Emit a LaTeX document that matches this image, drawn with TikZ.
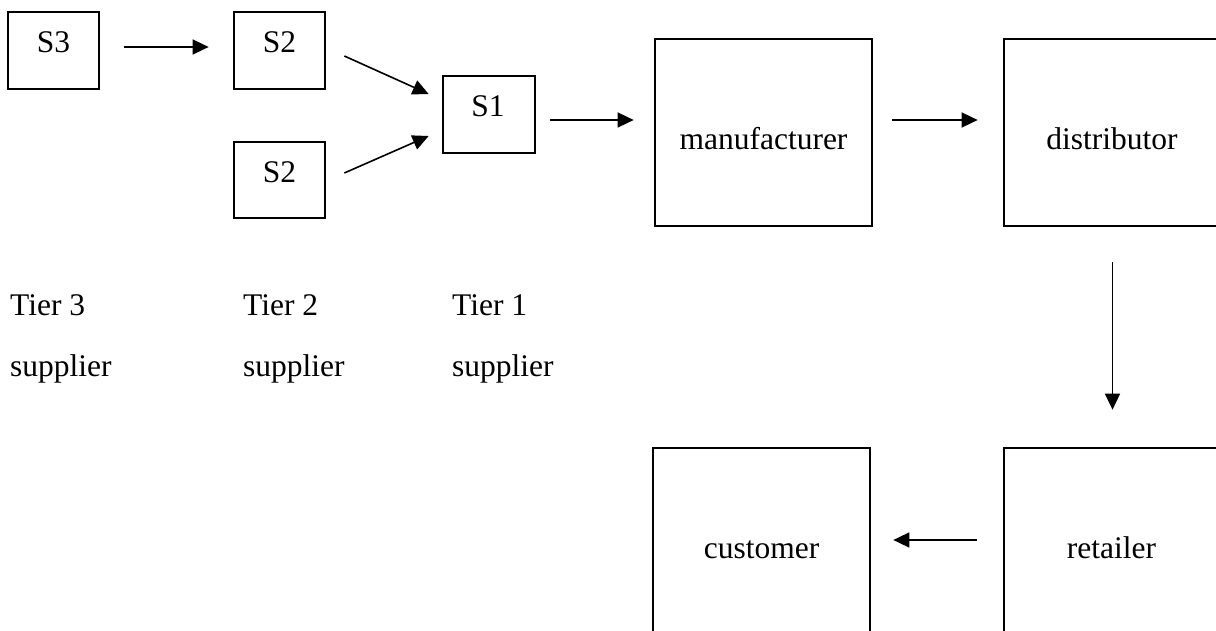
\documentclass[tikz,border=0pt]{standalone}
\usepackage{fontspec}
\setmainfont{Liberation Serif}
\usetikzlibrary{arrows.meta}
\begin{document}
\begin{tikzpicture}[x=1pt,y=-1pt,
  box/.style={draw,line width=2.7pt,inner sep=0pt,minimum width=#1},
  box/.default=91pt,
  lbl/.style={inner sep=0pt,anchor=base,font=\fontsize{31.5}{37}\selectfont},
  lbll/.style={inner sep=0pt,anchor=base west,font=\fontsize{31.5}{37}\selectfont},
  arr/.style={line width=1.6pt,-{Triangle[length=16pt,width=15pt]}}]
\useasboundingbox (0,0) rectangle (1216,631);
\clip (0,0) rectangle (1216,631);
% supplier boxes
\node[box,minimum height=77pt] (S3) at (53.5,50.5) {};
\node[box,minimum height=77pt] (S2a) at (279.5,50.5) {};
\node[box,minimum height=76pt] (S2b) at (279.5,180) {};
\node[box,minimum height=77pt,minimum width=92pt] (S1) at (489,114.5) {};
\node[lbl] (tS3) at (53.5,53) {S3};
\node[lbl] (tS2a) at (279.5,53) {S2};
\node[lbl] (tS2b) at (279.5,183) {S2};
\node[lbl] (tS1) at (488,117) {S1};
% chain boxes
\node[box,minimum width=217pt,minimum height=187pt] (M) at (763.5,132.5) {};
\node[box,minimum width=217pt,minimum height=187pt] (D) at (1112.5,132.5) {};
\node[box,minimum width=217pt,minimum height=232pt] (R) at (1112.5,564) {};
\node[box,minimum width=217pt,minimum height=232pt] (C) at (761.5,564) {};
\node[lbl] (tM) at (763.5,150) {manufacturer};
\node[lbl] (tD) at (1112,150) {distributor};
\node[lbl] (tR) at (1111.5,558) {retailer};
\node[lbl] (tC) at (761.5,558) {customer};
% tier labels
\node[lbll] (t3) at (10,316) {Tier 3};
\node[lbll] (t2) at (243,316) {Tier 2};
\node[lbll] (t1) at (452,316) {Tier 1};
\node[lbll] (s3) at (10,376) {supplier};
\node[lbll] (s2) at (243,376) {supplier};
\node[lbll] (s1) at (452,376) {supplier};
% connectors
\draw[arr] ([shift={(24,-3.5)}]S3.east) -- ([shift={(-24,-3.5)}]S2a.west);
\draw[arr] ([shift={(18,5.5)}]S2a.east) -- ([shift={(-13,-20.5)}]S1.west);
\draw[arr] ([shift={(18,-7)}]S2b.east) -- ([shift={(-13,21.5)}]S1.west);
\draw[arr] ([shift={(14,5.5)}]S1.east) -- ([shift={(-20,-12.5)}]M.west);
\draw[arr] ([shift={(19,-12.5)}]M.east) -- ([shift={(-25,-12.5)}]D.west);
\draw[arr] ([shift={(0,35)}]D.south) -- ([shift={(0,-37)}]R.north);
\draw[arr] ([shift={(-26,-24)}]R.west) -- ([shift={(22,-24)}]C.east);
\end{tikzpicture}
\end{document}
